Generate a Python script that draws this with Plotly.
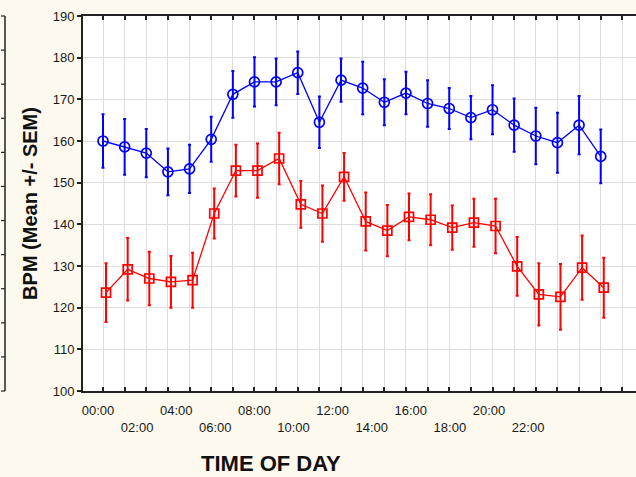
import plotly.graph_objects as go

hours = list(range(24))
blue_mean = [160.0, 158.6, 157.1, 152.6, 153.3, 160.4, 171.2, 174.2, 174.2, 176.4, 164.5, 174.6,
             172.7, 169.3, 171.5, 169.0, 167.8, 165.6, 167.5, 163.8, 161.2, 159.6, 163.8, 156.3]
blue_sem = [6.4, 6.7, 5.8, 5.6, 5.8, 5.4, 5.6, 5.9, 5.6, 5.1, 6.2, 5.2,
            6.3, 5.5, 5.1, 5.6, 4.9, 5.2, 5.9, 6.4, 6.8, 7.2, 7.0, 6.45]
red_mean = [123.6, 129.2, 127.0, 126.2, 126.6, 142.6, 152.9, 152.9, 155.8, 144.8, 142.6, 151.4,
            140.7, 138.5, 141.8, 141.1, 139.2, 140.4, 139.6, 129.9, 123.2, 122.6, 129.6, 124.8]
red_sem = [7.05, 7.5, 6.4, 6.2, 6.6, 6.0, 6.2, 6.5, 6.2, 5.6, 6.75, 5.75,
           6.95, 6.15, 5.6, 6.1, 5.3, 5.75, 6.55, 7.05, 7.45, 7.9, 7.7, 7.2]
label_hours_row1 = [0, 4, 8, 12, 16, 20]
label_text_row1 = ["00:00", "04:00", "08:00", "12:00", "16:00", "20:00"]
label_hours_row2 = [2, 6, 10, 14, 18, 22]
label_text_row2 = ["02:00", "06:00", "10:00", "14:00", "18:00", "22:00"]
y_ticks = [100, 110, 120, 130, 140, 150, 160, 170, 180, 190]

BG = "#fdf9ee"
FONT = "Arial, Liberation Sans, sans-serif"
RED_OFFSET = 0.14

fig = go.Figure()

fig.add_trace(go.Scatter(
    x=hours, y=blue_mean, mode="lines+markers",
    line=dict(color="#0000ff", width=1.3),
    marker=dict(symbol="circle-open", size=10, color="#0000ff", line=dict(width=1.7)),
    error_y=dict(type="data", array=blue_sem, visible=True, color="#0000ff", thickness=2, width=1.5),
    showlegend=False, hoverinfo="skip"))

fig.add_trace(go.Scatter(
    x=[h + RED_OFFSET for h in hours], y=red_mean, mode="lines+markers",
    line=dict(color="#ff0000", width=1.3),
    marker=dict(symbol="square-open", size=9, color="#ff0000", line=dict(width=1.7)),
    error_y=dict(type="data", array=red_sem, visible=True, color="#ff0000", thickness=2, width=1.5),
    showlegend=False, hoverinfo="skip"))

# empty traces to register label axes
fig.add_trace(go.Scatter(x=[], y=[], xaxis="x2", yaxis="y", showlegend=False))
fig.add_trace(go.Scatter(x=[], y=[], xaxis="x3", yaxis="y", showlegend=False))

fig.update_layout(
    width=636, height=477,
    margin=dict(l=83, r=0, t=16, b=86, pad=0),
    paper_bgcolor=BG, plot_bgcolor="white",
    font=dict(family=FONT, size=13, color="#1a1a1a"),
    xaxis=dict(
        range=[-0.924, 24.63], tickmode="array", tickvals=list(range(25)),
        showticklabels=False, ticks="inside", ticklen=4, tickwidth=1.5, tickcolor="#222",
        showline=True, linecolor="#222", linewidth=2, mirror="ticks",
        showgrid=True, gridcolor="#dedede", gridwidth=1, zeroline=False,
    ),
    xaxis2=dict(
        overlaying="x", anchor="y", side="bottom", range=[-0.767, 27.52],
        tickmode="array", tickvals=label_hours_row1, ticktext=label_text_row1,
        ticks="", showline=False, showgrid=False, zeroline=False,
        ticklabelstandoff=10, tickfont=dict(size=13, family=FONT, color="#1a1a1a"),
    ),
    xaxis3=dict(
        overlaying="x", anchor="y", side="bottom", range=[-0.767, 27.52],
        tickmode="array", tickvals=label_hours_row2, ticktext=label_text_row2,
        ticks="", showline=False, showgrid=False, zeroline=False,
        ticklabelstandoff=27, tickfont=dict(size=13, family=FONT, color="#1a1a1a"),
    ),
    yaxis=dict(
        range=[100, 190], tickmode="array", tickvals=y_ticks,
        ticks="outside", ticklen=4, tickwidth=1.5, tickcolor="#222",
        showline=True, linecolor="#222", linewidth=2,
        showgrid=True, gridcolor="#dedede", gridwidth=1, zeroline=False,
        tickfont=dict(size=13, family=FONT, color="#1a1a1a"),
        title=dict(text="<b>BPM (Mean +/- SEM)</b>", font=dict(size=20, family=FONT, color="#111"), standoff=10),
    ),
)

fig.add_annotation(text="<b>TIME OF DAY</b>", xref="paper", yref="paper",
                   x=(270.5 - 83) / 553, y=-(464 - 391) / 375, xanchor="center", yanchor="middle",
                   showarrow=False, font=dict(size=22, family=FONT, color="#111"))

# fragment of neighbouring panel's axis at the left edge
x_frag = (5 - 83) / 553
fig.add_shape(type="line", xref="paper", yref="paper", x0=x_frag, x1=x_frag, y0=0, y1=1,
              line=dict(color="#222", width=1.5))
for k in range(12):
    fig.add_shape(type="line", xref="paper", yref="paper",
                  x0=x_frag - 4 / 553, x1=x_frag, y0=k / 11, y1=k / 11,
                  line=dict(color="#222", width=1.2))

fig.write_html("out.html")
